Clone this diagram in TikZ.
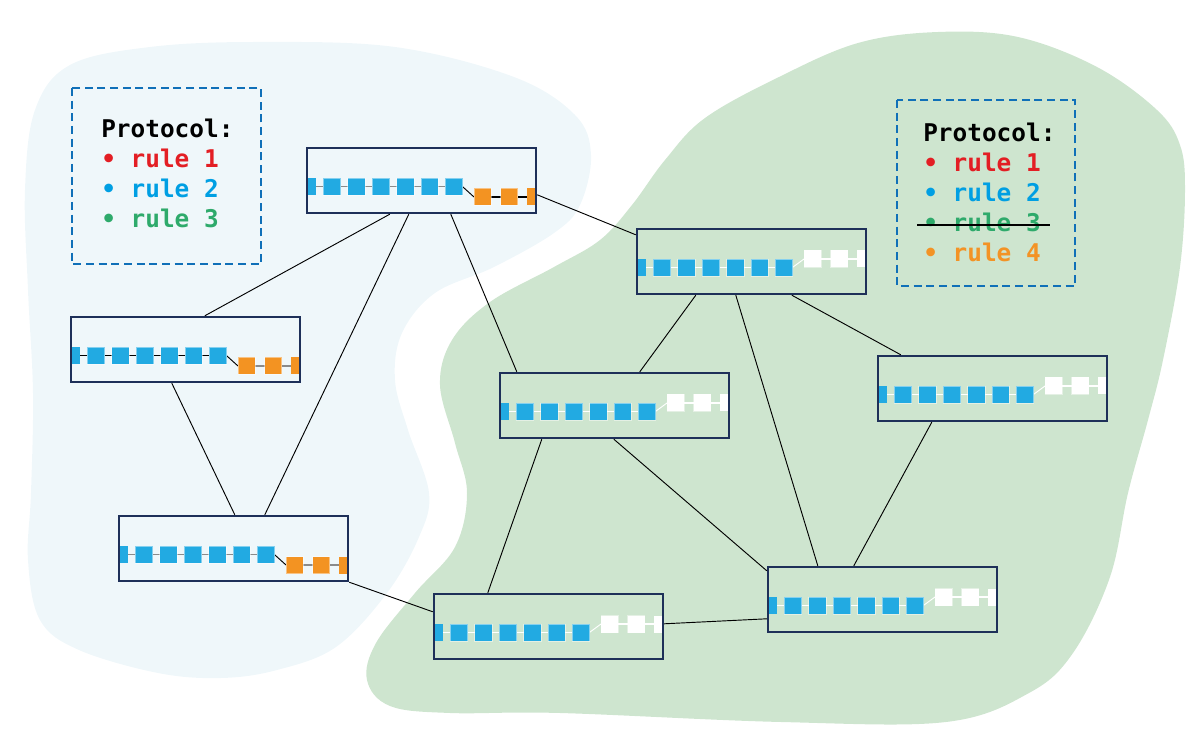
\documentclass[tikz,border=0pt]{standalone}
\usepackage{fontspec}
\setmonofont{DejaVu Sans Mono}
\usetikzlibrary{calc}

\definecolor{zoneA}{HTML}{EFF7FA}
\definecolor{zoneB}{HTML}{CEE5CF}
\definecolor{navy}{HTML}{1E3059}
\definecolor{sqblue}{HTML}{22AAE2}
\definecolor{sqorange}{HTML}{F39322}
\definecolor{frameblue}{HTML}{1070B8}
\definecolor{ruleA}{HTML}{E31E24}
\definecolor{ruleB}{HTML}{009FE3}
\definecolor{ruleC}{HTML}{2EAA6B}
\definecolor{ruleD}{HTML}{F39325}
\definecolor{chaingray}{HTML}{8A8A8A}

\tikzset{
  router/.style={draw=navy, line width=1.8pt, rectangle, inner sep=0pt,
    minimum width=171.75pt, minimum height=48.75pt},
  link/.style={draw=black, line width=0.7pt},
  block/.style={draw=white, draw opacity=0.45, line width=0.4pt},
  legendframe/.style={draw=frameblue, line width=2.2pt, dash pattern=on 6pt off 3.5pt},
  legendtxt/.style={font=\ttfamily\bfseries\fontsize{18.3}{22}\selectfont,
    anchor=base west, inner sep=0pt},
}

% #1 name, #2 left x, #3 top y, #4 tail fill, #5 chain line,
% #6 joining line, #7 tail line, #8 tail vertical offset
\newcommand\drawrouter[8]{%
  \begin{scope}[shift={(#2,#3)}]
    \draw[#5, line width=0.9pt] (0,38.5) -- (155.4,38.5);
    \draw[#6, line width=0.7pt] (155.4,38.5) -- (167,38.5+#8);
    \draw[#7, line width=0.9pt] (167,38.5+#8) -- (229,38.5+#8);
    \fill[sqblue] (0,30) rectangle (9.3,47);
    \foreach \k in {1,...,6}
      \filldraw[fill=sqblue, block] ({0.6+24.4*\k-8.7},30) rectangle ++(17.4,17);
    \filldraw[fill=#4, block] (167,30+#8) rectangle ++(17,17);
    \filldraw[fill=#4, block] (193.5,30+#8) rectangle ++(17,17);
    \fill[#4] (220,30+#8) rectangle (229,47+#8);
  \end{scope}
  \node[router] (#1) at ({#2+114.5},{#3+32.5}) {};
}

\begin{document}
\begin{tikzpicture}[x=0.75pt, y=-0.75pt]
\useasboundingbox (0,0) rectangle (1204,734);

% the two administrative zones
\fill[zoneA] plot[smooth cycle, tension=0.6] coordinates {
  (25,190) (35,110) (70,65) (150,47) (257,42) (395,47) (514,77) (575,115)
  (591,155) (580,205) (554,233) (494,267) (435,293) (402,333) (395,380)
  (408,430) (429,493) (419,537) (387,593) (336,647) (277,670) (221,678)
  (158,673) (79,650) (40,620) (28,560) (31,493) (33,393) (28,290)};

\fill[zoneB] plot[smooth cycle, tension=0.6] coordinates {
  (440,385) (452,340) (490,302) (554,267) (600,240) (632,205) (665,160)
  (705,118) (779,77) (858,43) (938,32) (1018,37) (1097,67) (1157,110)
  (1180,145) (1185,190) (1180,267) (1163,360) (1148,420) (1128,493)
  (1110,577) (1073,653) (1029,693) (946,722) (781,722) (560,713)
  (450,713) (390,706) (367,680) (376,643) (415,593) (455,547) (467,493)
  (455,443)};

% legends
\draw[legendframe] (72,88) rectangle (261,264);
\node[legendtxt] (pa) at (101,137.5) {Protocol:};
\node[legendtxt, text=ruleA] (pa1) at (101,167.5) {• rule 1};
\node[legendtxt, text=ruleB] (pa2) at (101,197.5) {• rule 2};
\node[legendtxt, text=ruleC] (pa3) at (101,227.5) {• rule 3};

\draw[legendframe] (897,100) rectangle (1075,286);
\node[legendtxt] (pb) at (923,142) {Protocol:};
\node[legendtxt, text=ruleA] (pb1) at (923,172) {• rule 1};
\node[legendtxt, text=ruleB] (pb2) at (923,202) {• rule 2};
\node[legendtxt, text=ruleC] (pb3) at (923,232) {• rule 3};
\node[legendtxt, text=ruleD] (pb4) at (923,262) {• rule 4};
\draw[black, line width=2.2pt] (917,225) -- (1050,225);

% routers
\drawrouter{A}{307}{148}{sqorange}{chaingray}{black}{black}{10.5}
\drawrouter{C}{71}{317}{sqorange}{black}{black}{chaingray}{10.5}
\drawrouter{F}{119}{516}{sqorange}{chaingray}{black}{chaingray}{10.5}
\drawrouter{B}{637}{229}{white}{white}{white}{white}{-8.5}
\drawrouter{D}{500}{373}{white}{white}{white}{white}{-8.5}
\drawrouter{E}{878}{356}{white}{white}{white}{white}{-8.5}
\drawrouter{G}{434}{594}{white}{white}{white}{white}{-8.5}
\drawrouter{H}{768}{567}{white}{white}{white}{white}{-8.5}

% links
\draw[link] ($(A.south west)+(84,0)$) -- ($(C.north west)+(135,0)$);
\draw[link] ($(A.south west)+(103,0)$) -- ($(F.north west)+(147,0)$);
\draw[link] ($(A.south west)+(145,0)$) -- ($(D.north west)+(18,0)$);
\draw[link] ($(A.north east)+(0,48)$) -- ($(B.north west)+(0,7)$);
\draw[link] ($(C.south west)+(102,0)$) -- ($(F.north west)+(117,0)$);
\draw[link] ($(F.south east)+(0,0)$) -- ($(G.north west)+(0,19)$);
\draw[link] ($(B.south west)+(60,0)$) -- ($(D.north west)+(141,0)$);
\draw[link] ($(B.south west)+(100,0)$) -- ($(H.north west)+(51,0)$);
\draw[link] ($(B.south west)+(156,0)$) -- ($(E.north west)+(24,0)$);
\draw[link] ($(D.south west)+(43,0)$) -- ($(G.north west)+(55,0)$);
\draw[link] ($(D.south west)+(115,0)$) -- ($(H.north west)+(0,5)$);
\draw[link] ($(E.south west)+(55,0)$) -- ($(H.north west)+(87,0)$);
\draw[link] ($(G.north east)+(0,31)$) -- ($(H.north west)+(0,53)$);
\end{tikzpicture}
\end{document}
